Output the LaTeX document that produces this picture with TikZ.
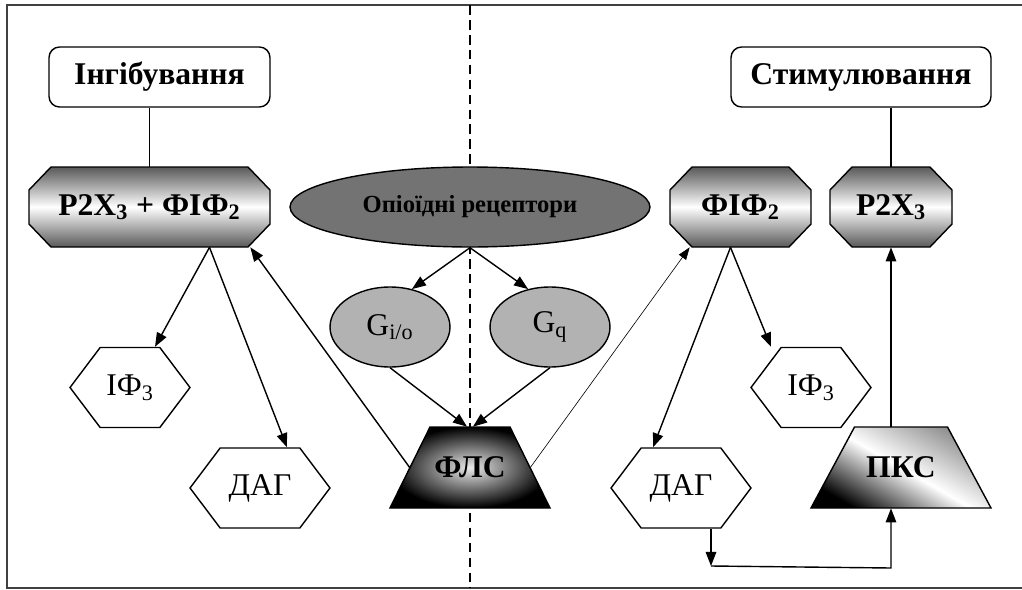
\documentclass[tikz,border=0pt]{standalone}
\usepackage{fontspec}
\setmainfont{Liberation Serif}
\usetikzlibrary{arrows.meta}
\tikzset{>={Triangle[length=8pt,width=6pt]}}
\usetikzlibrary{calc}
\usetikzlibrary{shapes.geometric, shapes.symbols}
\tikzstyle{arrow} = [line width=0.8pt,->]
\tikzstyle{thinarrow} = [line width=0.35pt,->,>={Triangle[length=7pt,width=5pt]}]
\tikzset{
  bigfont/.style={font=\fontsize{18}{20}\selectfont},
  titlebox/.style={draw, line width=0.8pt, rounded corners=6pt, minimum height=1.2cm, font=\fontsize{18}{20}\selectfont\bfseries},
  receptor/.style={rectangle, minimum height=1.6cm, font=\fontsize{18}{20}\selectfont\bfseries},
  receptorfill/.style={draw, line width=0.8pt, top color=black!65, bottom color=black!65, middle color=white},
  gprot/.style={ellipse, draw, line width=0.8pt, fill=black!30, minimum width=2.4cm, minimum height=1.6cm, bigfont},
  hexa/.style={signal, signal to=west and east, signal pointer angle=106, draw, line width=0.8pt,
    fill=white, minimum height=1.6cm, bigfont},
  kinase/.style={rectangle, minimum height=1.62cm, font=\fontsize{18}{20}\selectfont\bfseries},
  flsfill/.style={draw, line width=0.8pt, shading=radial, inner color=white!92!black, outer color=black},
  pksfill/.style={draw, line width=0.8pt, top color=black!45, bottom color=black, middle color=white, shading angle=-30}
}
% octagon behind a receptor node: centre x, centre y, half width, half height (pixels)
\newcommand{\octagon}[4]{%
  \shade[receptorfill] (#1-#3+22,#2-#4) -- (#1+#3-22,#2-#4) -- (#1+#3,#2-#4+23) -- (#1+#3,#2+#4-23)
    -- (#1+#3-22,#2+#4) -- (#1-#3+22,#2+#4) -- (#1-#3,#2+#4-23) -- (#1-#3,#2-#4+23) -- cycle;}
% trapezium behind a kinase node: style, centre x, centre y, half bottom, half top, half height
\newcommand{\trapez}[6]{%
  \shade[#1] (#2-#4,#3+#6) -- (#2+#4,#3+#6) -- (#2+#5,#3-#6) -- (#2-#5,#3-#6) -- cycle;}

\begin{document}
\begin{tikzpicture}[x=0.02cm,y=-0.02cm]
\useasboundingbox (0,0) rectangle (1022,589);
% frame and membrane line
\draw[line width=1pt, black!75] (1024,5) -- (7,5) -- (7,588) -- (1024,588);
\draw[line width=1pt, dash pattern=on 5.5pt off 3pt] (470,5) -- (470,588);

% inhibition side
\node[titlebox, minimum width=4.42cm] (inh) at (159.5,77) {Інгібування};
\octagon{149.5}{207}{120.5}{40}
\node[receptor, minimum width=4.82cm] (p2xl) at (149.5,207) {P2X\textsubscript{3} + ФІФ\textsubscript{2}};
\node[hexa, minimum width=2.4cm] (iph3l) at (130,387.5) {ІФ\textsubscript{3}};
\node[hexa, minimum width=2.8cm] (dagl) at (260,488) {ДАГ};

% opioid receptors
\node[ellipse, draw, line width=0.8pt, fill=black!55, minimum width=7.2cm, minimum height=1.6cm,
  font=\fontsize{14}{16}\selectfont\bfseries] (opi) at (470,207) {Опіоїдні рецептори};
\node[gprot] (gio) at (390,327) {G\textsubscript{i/o}};
\node[gprot] (gq) at (550,327) {G\textsubscript{q}};
\trapez{flsfill}{470}{467.5}{80}{40}{40.5}
\node[kinase, minimum width=2.4cm] (fls) at (470,467.5) {ФЛС};

% stimulation side
\node[titlebox, minimum width=5.2cm] (stim) at (861,77) {Стимулювання};
\octagon{740.5}{207}{70.5}{40}
\node[receptor, minimum width=2.82cm] (p2xr) at (740.5,207) {ФІФ\textsubscript{2}};
\octagon{891}{207}{61}{40}
\node[receptor, minimum width=2.44cm] (p2xr2) at (891,207) {P2X\textsubscript{3}};
\node[hexa, minimum width=2.4cm] (iph3r) at (811,387.5) {ІФ\textsubscript{3}};
\node[hexa, minimum width=2.8cm] (dagr) at (681,488) {ДАГ};
\trapez{pksfill}{901}{467.5}{90}{46.5}{40.5}
\node[kinase, minimum width=2.73cm] (pks) at (901,467.5) {ПКС};

% connectors
\draw[line width=0.8pt] (p2xl.north |- inh.south) -- (p2xl.north);
\draw[line width=0.8pt] (p2xr2.north |- stim.south) -- (p2xr2.north);
\draw[arrow] (opi.south) -- (gio.60);
\draw[arrow] (opi.south) -- (gq.120);
\draw[arrow] (gio.south) -- ($(fls.north)+(-3,0)$);
\draw[arrow] (gq.south) -- ($(fls.north)+(3,0)$);
\draw[arrow] (fls.west) -- ($(p2xl.south east)+(-20,0)$);
\draw[thinarrow] (fls.east) -- ($(p2xr.south west)+(20,0)$);
\draw[arrow] ($(p2xl.south)+(60,0)$) -- ($(iph3l.north)+(25,0)$);
\draw[arrow] ($(p2xl.south)+(60,0)$) -- ($(dagl.north)+(27,0)$);
\draw[arrow] ($(p2xr.south)+(-10,0)$) -- ($(dagr.north)+(-28,0)$);
\draw[arrow] ($(p2xr.south)+(-10,0)$) -- ($(iph3r.north)+(-40,0)$);
\draw[arrow] (p2xr2.south |- pks.north) -- (p2xr2.south);
\coordinate (turn) at (711,566);
\coordinate (corner) at (891,568);
\draw[arrow] (dagr.south -| turn) -- (turn);
\draw[arrow] (turn) -- (corner) -- (corner |- pks.south);
\end{tikzpicture}
\end{document}
